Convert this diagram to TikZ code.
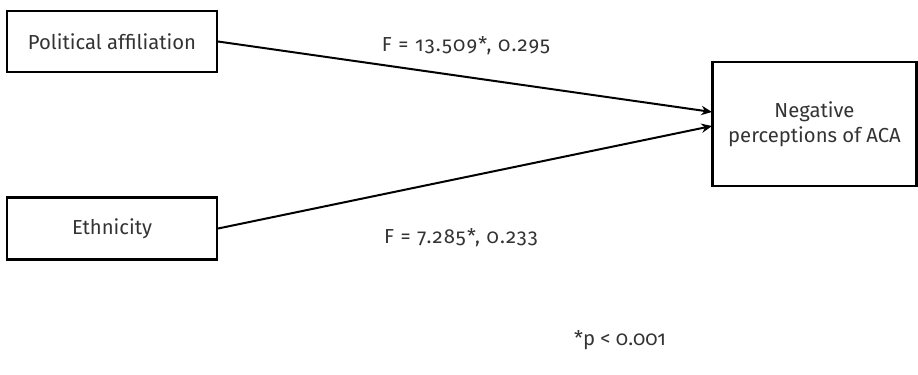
\documentclass[tikz,border=0pt]{standalone}
\usepackage{fontspec}
\setmainfont[Numbers=OldStyle]{Fira Sans}
\usetikzlibrary{arrows.meta}
\begin{document}
\begin{tikzpicture}[x=0.75pt,y=-0.75pt,
  box/.style={draw,line width=1.6pt,inner sep=0pt},
  lbl/.style={font=\fontsize{15.2}{18.5}\selectfont,text=black!80},
  flbl/.style={lbl,font=\fontsize{15.2}{18.5}\selectfont\addfontfeatures{LetterSpace=6}},
  conn/.style={line width=1.5pt,-{Stealth[length=8pt,width=7pt]}}]
\useasboundingbox (0,0) rectangle (918,375);
\node[box,minimum width=210*0.75pt,minimum height=61*0.75pt] (pol) at (112,41.5) {};
\node[lbl] at (pol.center) {Political affiliation};
\node[box,minimum width=210*0.75pt,minimum height=62*0.75pt] (eth) at (112,228.5) {};
\node[lbl] at (eth.center) {Ethnicity};
\node[box,minimum width=204*0.75pt,minimum height=124*0.75pt] (neg) at (814.5,124) {};
\node[lbl,align=center] at (neg.center) {Negative\\perceptions of ACA};
\coordinate (a1) at (712,112);
\coordinate (a2) at (712,126);
\draw[conn] (pol.east) -- (a1);
\draw[conn] (eth.east) -- (a2);
\node[flbl] (f1) at (466,46) {F = 13.509*, 0.295};
\node[flbl] (f2) at (461,238) {F = 7.285*, 0.233};
\node[lbl] (p) at (620,340) {*p < 0.001};
\end{tikzpicture}
\end{document}
